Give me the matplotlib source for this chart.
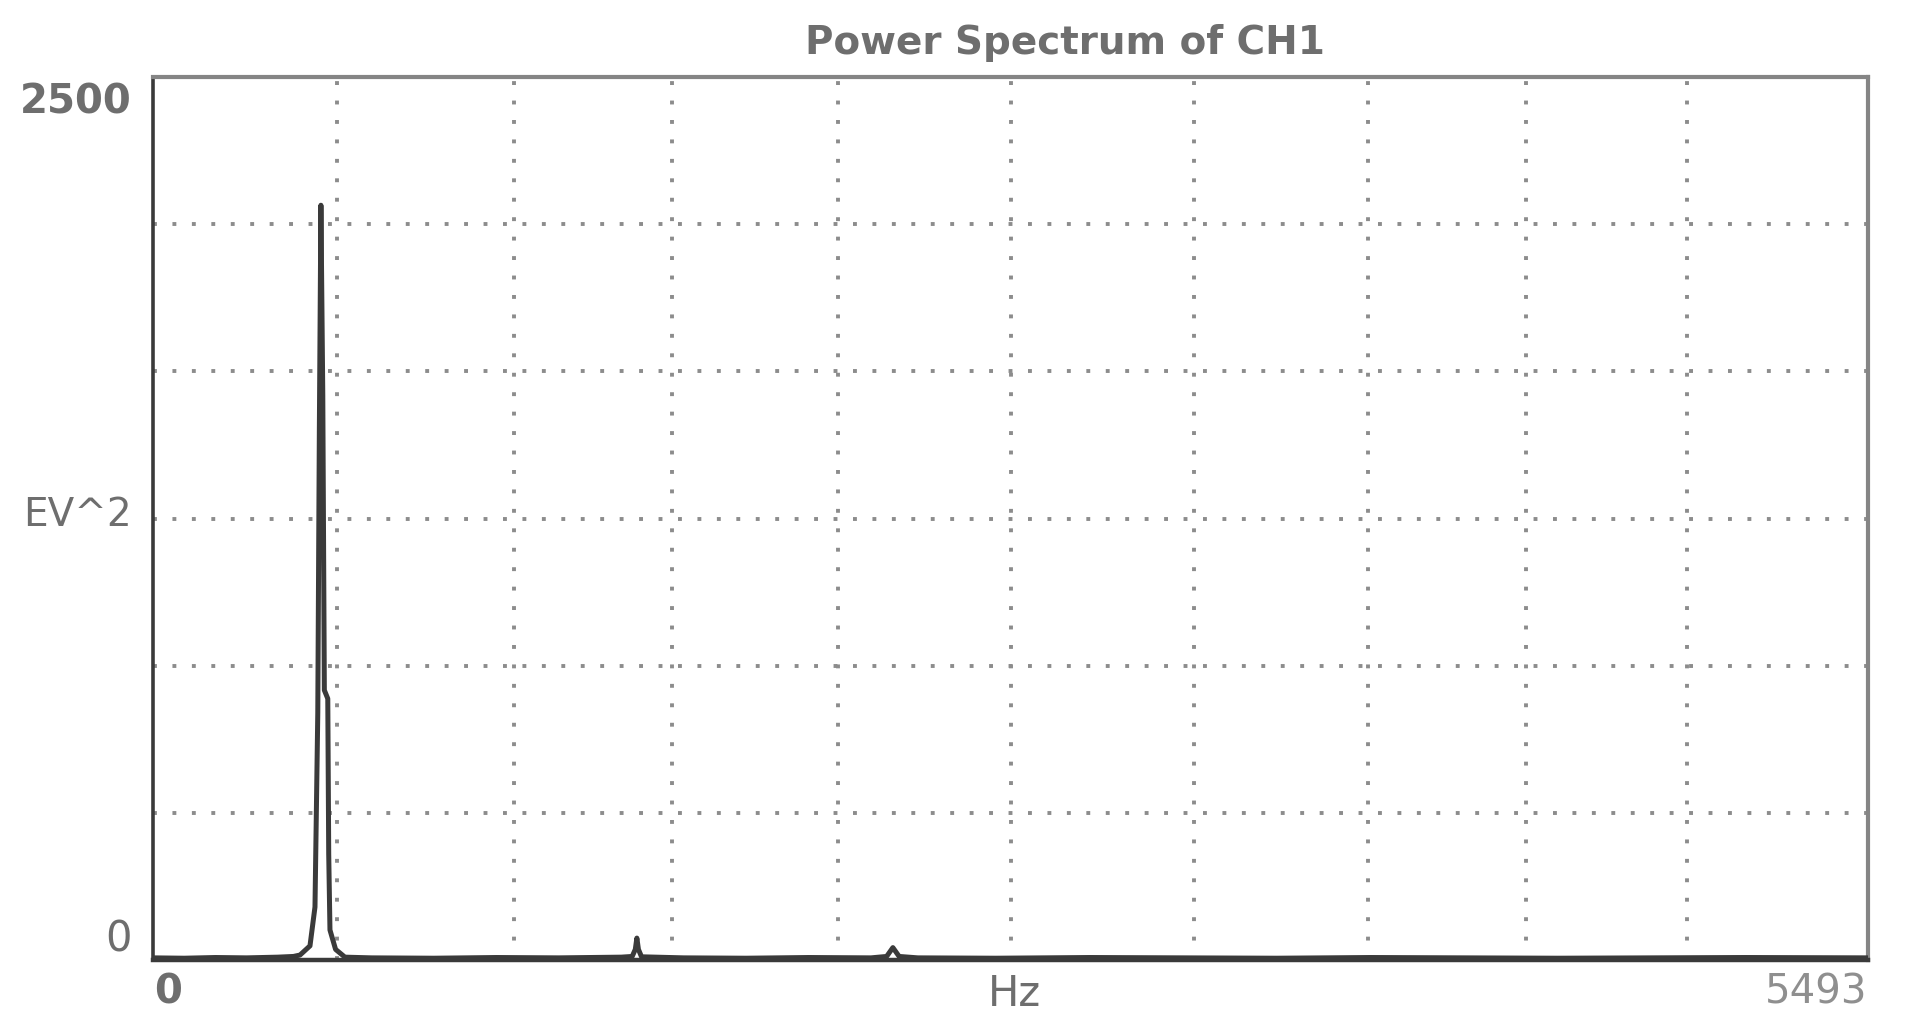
import numpy as np
import matplotlib
matplotlib.use("Agg")
import matplotlib.pyplot as plt

# spectrum (Hz, EU^2)
freq_hz = [0, 100, 200, 300, 400, 450, 471, 503, 519, 528, 533, 538, 544, 549,
           560, 563, 567, 585, 615, 700, 900, 1100, 1300, 1500, 1535, 1545,
           1550, 1555, 1565, 1700, 1900, 2100, 2300, 2350, 2370, 2390, 2450,
           2700, 3000, 3300, 3600, 3900, 4200, 4500, 4800, 5100, 5493]
power = [6, 5, 7, 6, 8, 10, 14, 40, 150, 700, 1500, 2137, 1600, 764,
         740, 300, 85, 30, 8, 6, 5, 7, 6, 8, 10, 30,
         62, 30, 9, 6, 5, 7, 6, 10, 35, 10, 6,
         5, 7, 6, 5, 7, 6, 5, 6, 7, 6]

x_max = 5493
y_max = 2500
# grid positions as they sit in the picture
x_grid = [589, 1156, 1662, 2194, 2748, 3334, 3892, 4398, 4913]
y_grid = [y_max / 6 * k for k in range(1, 6)]

title = "Power Spectrum of CH1"
y_labels = ["2500", "EV^2", "0"]
x_labels = ["0", "Hz", "5493"]

text_col = "#6e6e6e"
line_col = "#3a3a3a"
grid_col = "#8c8c8c"

fig = plt.figure(figsize=(19.07, 10.23), dpi=100)
ax = fig.add_axes([0.0802, 0.0616, 0.8993, 0.8631])

for gx in x_grid:
    ax.axvline(gx, color=grid_col, lw=2.8, ls=(0, (1, 4)), zorder=1)
for gy in y_grid:
    ax.axhline(gy, color=grid_col, lw=2.8, ls=(0, (1, 4)), zorder=1)

ax.plot(freq_hz, power, color=line_col, lw=3.6, zorder=3, solid_joinstyle="round")

ax.set_xlim(0, x_max)
ax.set_ylim(0, y_max)
ax.set_xticks([])
ax.set_yticks([])

ax.spines["left"].set_color(line_col)
ax.spines["left"].set_linewidth(2.6)
ax.spines["bottom"].set_color(line_col)
ax.spines["bottom"].set_linewidth(3.2)
ax.spines["top"].set_color("#858585")
ax.spines["top"].set_linewidth(3)
ax.spines["right"].set_color("#858585")
ax.spines["right"].set_linewidth(3)

# title and labels, placed in figure pixels
W, H = 1907, 1023
def put(x, y, s, **kw):
    fig.text(x / W, 1 - y / H, s, **kw)

put(1065, 43, title, ha="center", va="center", fontsize=28,
    fontweight="bold", color=text_col)
put(132, 102, y_labels[0], ha="right", va="center", fontsize=29,
    fontweight="bold", color=text_col)
put(132, 515, y_labels[1], ha="right", va="center", fontsize=28,
    color=text_col)
put(119, 940, y_labels[2], ha="center", va="center", fontsize=30,
    color=text_col)
put(168, 992, x_labels[0], ha="center", va="center", fontsize=29,
    fontweight="bold", color=text_col)
put(1014, 994, x_labels[1], ha="center", va="center", fontsize=30,
    color=text_col)
put(1867, 992, x_labels[2], ha="right", va="center", fontsize=29,
    color="#8f8f8f")

fig.savefig("out.png", dpi=100, facecolor="white")
